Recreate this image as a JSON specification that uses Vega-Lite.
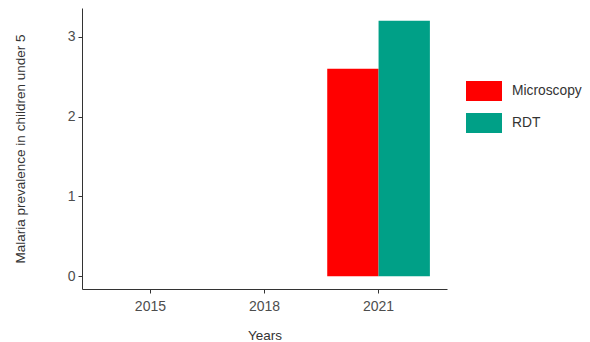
{
  "$schema": "https://vega.github.io/schema/vega-lite/v6.json",
  "width": 365,
  "height": 281,
  "autosize": {"type": "none"},
  "padding": {"left": 82, "top": 8, "right": 143, "bottom": 53},
  "background": "white",
  "config": {
    "view": {"stroke": null},
    "font": "Liberation Sans",
    "axis": {
      "domainColor": "#333333",
      "domainWidth": 1,
      "tickColor": "#333333",
      "tickSize": 4,
      "labelColor": "#4D4D4D",
      "labelFontSize": 14,
      "labelFont": "Liberation Sans",
      "titleFont": "Liberation Sans",
      "titleFontSize": 13.5,
      "titleFontWeight": "normal",
      "titleColor": "#333333",
      "grid": false
    }
  },
  "data": {
    "values": [
      {"year": "2015", "method": "Microscopy", "value": null},
      {"year": "2015", "method": "RDT", "value": null},
      {"year": "2018", "method": "Microscopy", "value": null},
      {"year": "2018", "method": "RDT", "value": null},
      {"year": "2021", "method": "Microscopy", "value": 2.6},
      {"year": "2021", "method": "RDT", "value": 3.2}
    ]
  },
  "mark": {"type": "bar"},
  "encoding": {
    "x": {
      "field": "year",
      "type": "nominal",
      "scale": {"domain": ["2015", "2018", "2021"], "paddingInner": 0.1, "paddingOuter": 0.15},
      "axis": {"labelAngle": 0, "title": "Years", "labelPadding": 6, "titlePadding": 15}
    },
    "xOffset": {
      "field": "method",
      "type": "nominal",
      "scale": {"paddingInner": 0, "paddingOuter": 0}
    },
    "y": {
      "field": "value",
      "type": "quantitative",
      "scale": {"domain": [-0.16, 3.36], "nice": false, "zero": false},
      "axis": {"values": [0, 1, 2, 3], "title": "Malaria prevalence in children under 5", "labelPadding": 3, "titlePadding": 40}
    },
    "y2": {"datum": 0},
    "color": {
      "field": "method",
      "type": "nominal",
      "scale": {"domain": ["Microscopy", "RDT"], "range": ["#FF0000", "#00A087"]},
      "legend": {
        "title": null,
        "orient": "none",
        "legendX": 384,
        "legendY": 65,
        "padding": 0,
        "symbolType": "M-1,-0.556H1V0.556H-1Z",
        "symbolSize": 1296,
        "symbolStrokeWidth": 0,
        "symbolOpacity": 1,
        "labelFontSize": 13.8,
        "labelColor": "#333333",
        "labelOffset": 10,
        "rowPadding": 3
      }
    }
  }
}
